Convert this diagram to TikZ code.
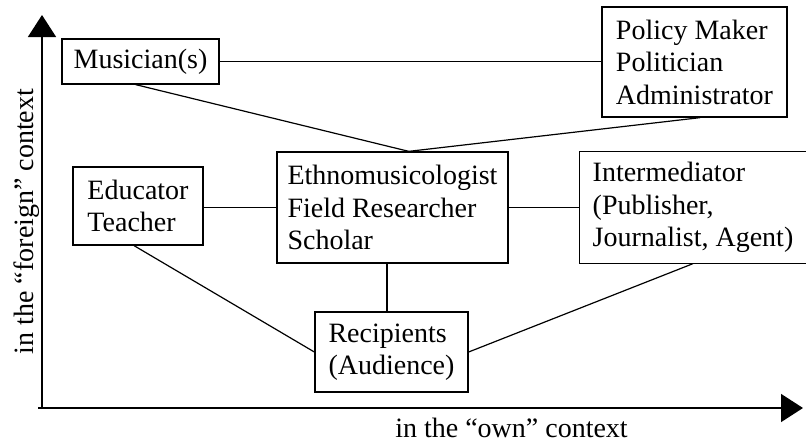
\documentclass[tikz,border=0pt]{standalone}
\usepackage{fontspec}
\setmainfont{Liberation Serif}
\usetikzlibrary{arrows.meta,calc}
\begin{document}
\begin{tikzpicture}[x=1pt,y=-1pt,
  box/.style={draw, line width=1.3pt, inner sep=0pt, align=left, font=\fontsize{28}{32.5}\selectfont},
  conn/.style={line width=1.2pt},
  axis/.style={line width=1.5pt, -{Triangle[length=22pt,width=28pt]}},
  lbl/.style={font=\fontsize{28}{32.5}\selectfont, inner sep=0pt}]
\useasboundingbox (0,0) rectangle (806,442);
% boxes
\node[box, minimum width=157pt, minimum height=45pt] (mus) at (140.5,61.5) {Musician(s)};
\node[box, minimum width=185pt, minimum height=110pt] (pol) at (694.5,62) {Policy Maker\\Politician\\Administrator};
\node[box, minimum width=231pt, minimum height=111pt] (eth) at (392.5,207.5) {Ethnomusicologist\\Field Researcher\\Scholar};
\node[box, minimum width=130pt, minimum height=78pt] (edu) at (138,206) {Educator\\Teacher};
\node[box, draw=none, minimum width=226pt, minimum height=111pt] (int) at (693,207.5) {Intermediator\\(Publisher,\\Journalist, Agent)};
\draw[line width=1.3pt] (int.north east) -- (int.north west) -- (int.south west) -- (int.south east);
\node[box, minimum width=153pt, minimum height=80pt] (rec) at (391.5,352) {Recipients\\(Audience)};
% connectors
\coordinate (m) at ($(eth.north west)!0.57!(eth.north east)$);
\draw[conn] (mus.east) -- (mus.east -| pol.west);
\draw[conn] ($(mus.south west)!0.47!(mus.south east)$) -- (m);
\draw[conn] ($(pol.south west)!0.53!(pol.south east)$) -- (m);
\draw[conn] (edu.east |- eth.west) -- (eth.west);
\draw[conn] (eth.east) -- (int.west);
\coordinate (es) at ($(eth.south west)!0.476!(eth.south east)$);
\draw[conn] (es) -- (es |- rec.north);
\draw[conn] ($(edu.south west)!0.47!(edu.south east)$) -- (rec.west);
\draw[conn] (int.south) -- (rec.east);
% axes
\coordinate (O) at (42,409);
\coordinate (ytip) at (42,15);
\coordinate (xstart) at (38,408);
\coordinate (xtip) at (803,408);
\draw[axis] (O) -- (ytip);
\draw[axis] (xstart) -- (xtip);
% axis labels
\node[lbl, anchor=base] (xl) at (511.5,437) {in the “own” context};
\node[lbl, rotate=90, anchor=base] (yl) at (33,221.5) {in the “foreign” context};
\end{tikzpicture}
\end{document}
